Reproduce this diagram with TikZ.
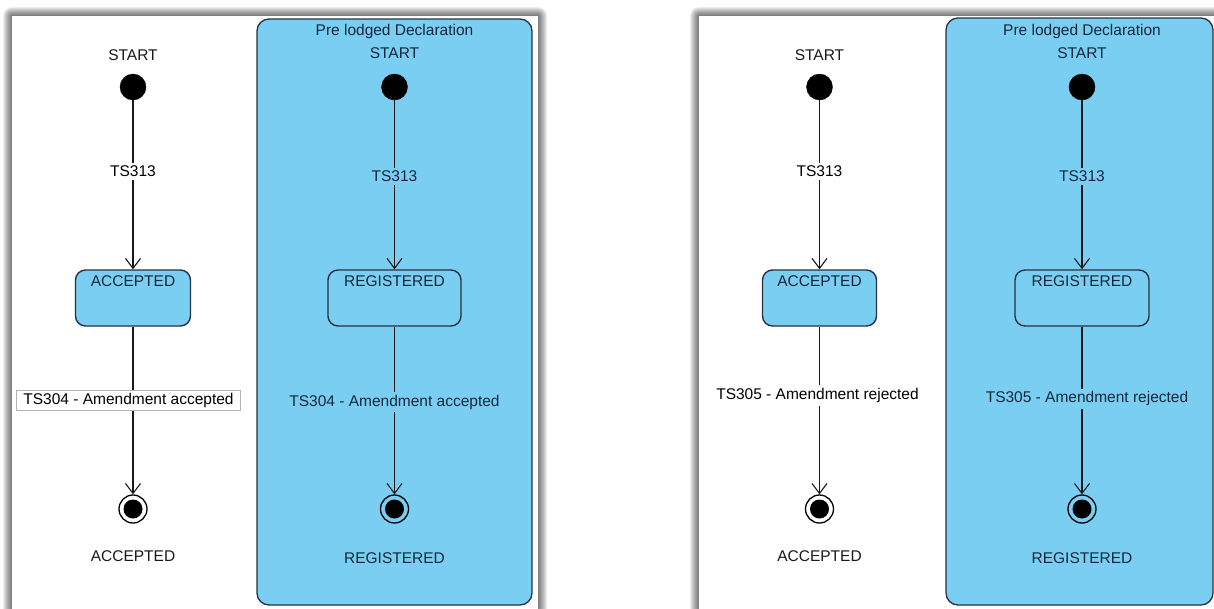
\documentclass[tikz,border=0pt]{standalone}
\usepackage{fontspec}
\setmainfont{Liberation Sans}
\usetikzlibrary{arrows.meta}
\definecolor{vpblue}{RGB}{122,206,242}
\definecolor{vpline}{RGB}{38,50,64}
\definecolor{vptext}{RGB}{20,40,60}
\begin{document}
\begin{tikzpicture}[x=1pt,y=-1pt,
  txt/.style={font=\fontsize{15.5}{18}\selectfont, inner sep=0pt},
  shadowlayer/.style={fill=black, opacity=0.07},
  panel/.style={fill=white},
  region/.style={fill=vpblue, draw=vpline, line width=1.3pt, rounded corners=12pt},
  initial/.style={circle, fill=black, draw=black, minimum size=26pt, inner sep=0pt},
  final/.style={circle, draw=black, line width=1.3pt, minimum size=28pt, inner sep=0pt, path picture={\fill[black] (path picture bounding box.center) circle (9.5pt);}},
  state/.style={draw=vpline, fill=vpblue, line width=1.4pt, rounded corners=10pt, inner xsep=0pt, inner ysep=2.5pt, text height=14pt, text depth=37pt, font=\fontsize{15.5}{18}\selectfont, text=vptext},
  trans/.style={draw=black!90, line width=1.1pt, -{Straight Barb[length=10pt,width=15pt]}},
  tlabel/.style={font=\fontsize{15.5}{18}\selectfont, inner xsep=3pt, inner ysep=3pt},
]
\clip (0,0) rectangle (1214,608);
\fill[white] (0,0) rectangle (1214,608);

% ---------- panel shadows ----------
\foreach \k in {9,8,...,1}{
  \fill[shadowlayer, rounded corners=\k pt] (12-\k,16-\k) rectangle (538+\k,650);
  \fill[shadowlayer, rounded corners=\k pt] (699-\k,16-\k) rectangle (1260,650);
}

% ---------- left panel ----------
\path[panel] (12,16) rectangle (538,650);
\path[region] (257,19) rectangle (532,605);

\node[txt, text=black!90] (st1) at (133,55) {START};
\node[initial] (i1) at (133,87) {};
\node[state, minimum width=115pt] (a1) at (133,298) {ACCEPTED};
\node[final] (f1) at (133,509) {};
\node[txt, text=black!90] (e1) at (133,556) {ACCEPTED};
\draw[trans] (i1) -- node[tlabel, fill=white, pos=0.42] {TS313} (a1);
\draw[trans] (a1) -- node[tlabel, fill=white, draw=black!30, line width=0.6pt, inner xsep=7pt, xshift=-4.5pt, pos=0.44] {TS304 - Amendment accepted} (f1);

\node[txt, text=vptext] (t1) at (394.5,31) {Pre lodged Declaration};
\node[txt, text=vptext] (st2) at (394.5,53) {START};
\node[initial] (i2) at (394.5,87) {};
\node[state, minimum width=133pt] (r1) at (394.5,298) {REGISTERED};
\node[final] (f2) at (394.5,509) {};
\node[txt, text=vptext] (e2) at (394.5,558) {REGISTERED};
\draw[trans] (i2) -- node[tlabel, fill=vpblue, text=vptext, pos=0.45] {TS313} (r1);
\draw[trans] (r1) -- node[tlabel, fill=vpblue, text=vptext, pos=0.45] {TS304 - Amendment accepted} (f2);

% ---------- right panel ----------
\path[panel] (699,16) rectangle (1260,650);
\path[region] (946,18) rectangle (1213,605);

\node[txt, text=black!90] (st3) at (819.5,55) {START};
\node[initial] (i3) at (819.5,87) {};
\node[state, minimum width=114pt] (a3) at (819.5,298) {ACCEPTED};
\node[final] (f3) at (819.5,509) {};
\node[txt, text=black!90] (e3) at (819.5,556) {ACCEPTED};
\draw[trans] (i3) -- node[tlabel, fill=white, pos=0.42] {TS313} (a3);
\draw[trans] (a3) -- node[tlabel, fill=white, xshift=-2pt, pos=0.41] {TS305 - Amendment rejected} (f3);

\node[txt, text=vptext] (t4) at (1082,31) {Pre lodged Declaration};
\node[txt, text=vptext] (st4) at (1082,53) {START};
\node[initial] (i4) at (1082,87) {};
\node[state, minimum width=134pt] (r4) at (1082,298) {REGISTERED};
\node[final] (f4) at (1082,509) {};
\node[txt, text=vptext] (e4) at (1082,558) {REGISTERED};
\draw[trans] (i4) -- node[tlabel, fill=vpblue, text=vptext, pos=0.45] {TS313} (r4);
\draw[trans] (r4) -- node[tlabel, fill=vpblue, text=vptext, xshift=5pt, pos=0.43] {TS305 - Amendment rejected} (f4);
\end{tikzpicture}
\end{document}
